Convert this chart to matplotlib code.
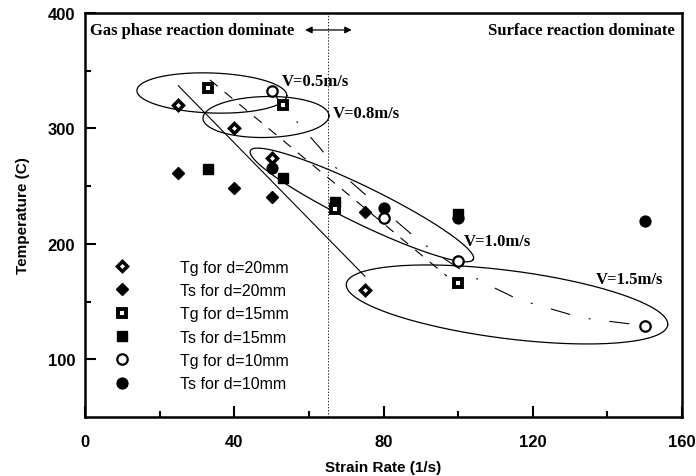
import numpy as np
import matplotlib
matplotlib.use('Agg')
import matplotlib.pyplot as plt

plt.rcParams['lines.scale_dashes'] = False

# ---- data ----
strain_d20 = [25, 40, 50, 75]
tg_d20 = [320, 300, 274, 160]
ts_d20 = [261, 248, 241, 228]
strain_d15 = [33, 53, 67, 100]
tg_d15 = [335, 320, 230, 166]
ts_d15 = [265, 257, 236, 226]
strain_d10 = [50, 80, 100, 150]
tg_d10 = [332, 222, 185, 129]
ts_d10 = [266, 231, 222, 220]

# trend lines
trend20_x = [25, 75]
trend20_y = [337, 172]
trend15_x = [33.5, 97]
trend15_y = [342, 172]
trend10_x = [50, 57, 63, 68, 75, 88, 94, 102, 109, 116, 133, 150]
trend10_y = [332, 305, 283, 263, 243, 207, 192, 175, 163, 152, 136, 129]

# velocity ellipses: label, centre (data), semi-axes (px), screen angle (deg)
ell_labels = ['V=0.5m/s', 'V=0.8m/s', 'V=1.0m/s', 'V=1.5m/s']
ell_cx = [34.0, 48.5, 74.2, 113.1]
ell_cy = [330.7, 309.9, 233.7, 147.5]
ell_a = [75, 63, 124, 162]
ell_b = [20, 20.5, 18.5, 34]
ell_ang = [2, -1.2, 26, 7.3]
lab_x = [52.8, 66.5, 101.6, 137.0]
lab_y = [341.1, 313.4, 202.7, 169.6]

W, H = 696, 477
fig = plt.figure(figsize=(W / 100, H / 100), dpi=100)
L, R, T, B = 85, 682, 14, 418
ax = fig.add_axes([L / W, 1 - B / H, (R - L) / W, (B - T) / H])
ax.set_xlim(0, 160)
ax.set_ylim(50, 400)

sans = ['Liberation Sans', 'DejaVu Sans']
serif = ['Liberation Serif', 'DejaVu Serif']

# markers
h1, = ax.plot(strain_d20, tg_d20, 'D', ms=4.6, mfc='white', mec='black', mew=2.5, ls='none', zorder=5)
h2, = ax.plot(strain_d20, ts_d20, 'D', ms=6.5, mfc='black', mec='black', mew=1, ls='none', zorder=5)
h4, = ax.plot(strain_d15, ts_d15, 's', ms=7.5, mfc='black', mec='black', mew=1, ls='none', zorder=5)
h3, = ax.plot(strain_d15, tg_d15, 's', ms=5.6, mfc='white', mec='black', mew=2.8, ls='none', zorder=6)
h6, = ax.plot(strain_d10, ts_d10, 'o', ms=7.8, mfc='black', mec='black', mew=1, ls='none', zorder=5)
h5, = ax.plot(strain_d10, tg_d10, 'o', ms=7.5, mfc='white', mec='black', mew=1.6, ls='none', zorder=6)

# trend lines
ax.plot(trend20_x, trend20_y, '-', color='black', lw=0.8, zorder=3)
ax.plot(trend15_x, trend15_y, color='black', lw=0.8, ls=(0, (7.2, 6.5)), zorder=3)
ax.plot(trend10_x, trend10_y, color='black', lw=0.8, ls=(0, (14.4, 13.7, 1.4, 13.7)), zorder=3)

# ellipses drawn in screen space
pxx = (R - L) / 160.0
pxy = (B - T) / 350.0
t = np.linspace(0, 2 * np.pi, 400)
for cx, cy, a, b, ang in zip(ell_cx, ell_cy, ell_a, ell_b, ell_ang):
    th = np.deg2rad(ang)
    ex, ey = a * np.cos(t), b * np.sin(t)
    X = ex * np.cos(th) - ey * np.sin(th)
    Yd = ex * np.sin(th) + ey * np.cos(th)
    ax.plot(cx + X / pxx, cy - Yd / pxy, '-', color='black', lw=0.9, zorder=4)

for s, x, y in zip(ell_labels, lab_x, lab_y):
    ax.text(x, y, s, ha='left', va='center', fontsize=12, fontweight='bold', family=serif, zorder=7)

# vertical divider
ax.axvline(65, color='black', lw=0.6, ls=(0, (1, 1.2)), zorder=2)

ax.text(1.3, 385.3, 'Gas phase reaction dominate', ha='left', va='center',
        fontsize=12, fontweight='bold', family=serif)
ax.text(158.1, 385.3, 'Surface reaction dominate', ha='right', va='center',
        fontsize=12, fontweight='bold', family=serif)
ax.annotate('', xy=(71.5, 385.3), xytext=(59, 385.3),
            arrowprops=dict(arrowstyle='<|-|>', lw=0.9, color='black',
                            mutation_scale=10, shrinkA=0, shrinkB=0))

# axes styling
for sp in ax.spines.values():
    sp.set_linewidth(1.8)
ax.set_xticks([0, 40, 80, 120, 160])
ax.set_xticks([20, 60, 100, 140], minor=True)
ax.set_yticks([100, 200, 300, 400])
ax.set_yticks([150, 250, 350], minor=True)
ax.tick_params(which='both', direction='in', top=False, right=False, width=1.5)
ax.tick_params(which='major', length=8)
ax.tick_params(which='minor', length=4.5)
ax.tick_params(axis='x', which='major', pad=12)
ax.tick_params(axis='y', which='major', pad=7)
for lab in ax.get_xticklabels() + ax.get_yticklabels():
    lab.set_fontweight('bold')
    lab.set_fontsize(12)
    lab.set_family(sans)

ax.set_xlabel('Strain Rate (1/s)', fontsize=11, fontweight='bold', family=sans, labelpad=8)
ax.set_ylabel('Temperature (C)', fontsize=11, fontweight='bold', family=sans, labelpad=13)

handles = [h1, h2, h3, h4, h5, h6]
labels = ['Tg for d=20mm', 'Ts for d=20mm', 'Tg for d=15mm',
          'Ts for d=15mm', 'Tg for d=10mm', 'Ts for d=10mm']
leg = ax.legend(handles, labels, loc='upper left', bbox_to_anchor=(0.038, 0.405),
                frameon=False, borderaxespad=0, handlelength=1.0, handletextpad=3.1,
                labelspacing=0.52, prop={'family': sans, 'size': 11.5})

fig.savefig('out.png', dpi=100)
